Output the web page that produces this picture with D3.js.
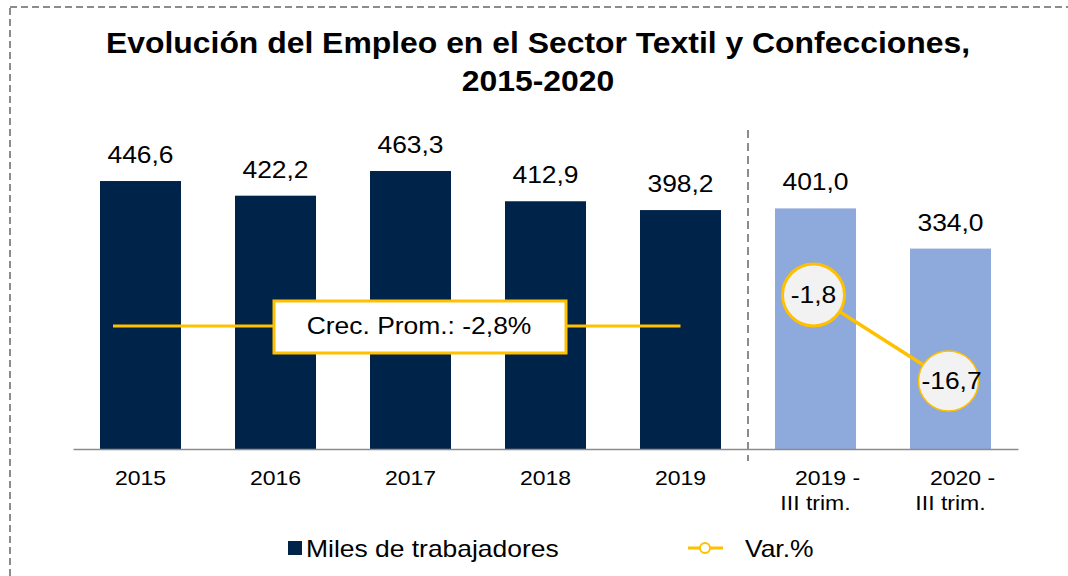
<!DOCTYPE html>
<html>
<head>
<meta charset="utf-8">
<script src="https://cdn.jsdelivr.net/npm/d3@7"></script>
<style>
  body { margin: 0; background: #fff; }
  svg text { font-family: "Liberation Sans", Arial, sans-serif; fill: #000; }
</style>
</head>
<body>
<svg id="chart" width="1068" height="576"></svg>
<script>
// data
const categories = ["2015", "2016", "2017", "2018", "2019", "2019 - III trim.", "2020 - III trim."];
const labelLines = [["2015"], ["2016"], ["2017"], ["2018"], ["2019"], ["2019 -", "III trim."], ["2020 -", "III trim."]];
const empleo = [446.6, 422.2, 463.3, 412.9, 398.2, 401.0, 334.0];
const quarterly = [false, false, false, false, false, true, true];
const variacion = [null, null, null, null, null, -1.8, -16.7];
const crecProm = -2.8;

const navy = "#00234A", lightBlue = "#8EA9DB", yellow = "#FFC000";
const sx = 1.15; // text in the original is a bit wider than tall

const locale = d3.formatLocale({ decimal: ",", thousands: ".", grouping: [3], currency: ["", ""], minus: "-" });
const fmt = locale.format(".1f");

const svg = d3.select("#chart");

// dashed frame
svg.append("rect")
    .attr("x", 10).attr("y", 7)
    .attr("width", 1100).attr("height", 620)
    .attr("fill", "none")
    .attr("stroke", "#8c8c8c")
    .attr("stroke-width", 2)
    .attr("stroke-dasharray", "7,4");

function addText(g, x, y, str, size, anchor, weight, scaleX) {
    return g.append("text")
        .attr("transform", "translate(" + x + "," + y + ") scale(" + (scaleX || sx) + ",1)")
        .attr("text-anchor", anchor || "middle")
        .style("font-size", size + "px")
        .style("font-weight", weight || "normal")
        .text(str);
}

// title
addText(svg, 538, 53, "Evolución del Empleo en el Sector Textil y Confecciones,", 29, "middle", "bold", 1.1);
addText(svg, 538, 91, "2015-2020", 29, "middle", "bold", 1.1);

const x = d3.scaleBand()
    .domain(categories)
    .range([73, 1018])
    .paddingInner(0.4)
    .paddingOuter(0.2);

const y = d3.scaleLinear().domain([0, 500]).range([449, 149]);
const y2 = d3.scaleLinear().domain([-20, 0]).range([400, 284.6]);

// bars
svg.append("g").selectAll("rect")
    .data(categories)
    .enter()
    .append("rect")
    .attr("x", d => x(d))
    .attr("y", (d, i) => y(empleo[i]))
    .attr("width", x.bandwidth())
    .attr("height", (d, i) => y(0) - y(empleo[i]))
    .attr("fill", (d, i) => quarterly[i] ? lightBlue : navy);

// value labels
const labels = svg.append("g");
categories.forEach(function (c, i) {
    addText(labels, x(c) + x.bandwidth() / 2, y(empleo[i]) - 18, fmt(empleo[i]), 23);
});

// x axis
const xAxis = svg.append("g")
    .attr("transform", "translate(0," + y(0) + ")")
    .call(d3.axisBottom(x).tickSize(0).tickFormat(""));
xAxis.select(".domain").attr("stroke", "#8c8c8c").attr("stroke-width", 1.5);

const xl = svg.append("g");
categories.forEach(function (c, i) {
    const cx = x(c) + x.bandwidth() / 2;
    const lines = labelLines[i];
    if (lines.length === 1) {
        addText(xl, cx, 485, lines[0], 20);
    } else {
        addText(xl, cx + 12, 485, lines[0], 20);
        addText(xl, cx, 510, lines[1], 20);
    }
});

// separator between annual and quarterly data
const sepX = x(categories[5]) - x.step() * x.paddingInner() / 2;
svg.append("line")
    .attr("x1", sepX).attr("x2", sepX)
    .attr("y1", 130).attr("y2", 461)
    .attr("stroke", "#8c8c8c")
    .attr("stroke-width", 2)
    .attr("stroke-dasharray", "8,5");

// average growth annotation
const avgY = y(205);
svg.append("line")
    .attr("x1", x(categories[0]) + 13)
    .attr("x2", x(categories[4]) + x.bandwidth() / 2)
    .attr("y1", avgY).attr("y2", avgY)
    .attr("stroke", yellow)
    .attr("stroke-width", 3);
svg.append("rect")
    .attr("x", 274).attr("y", avgY - 25)
    .attr("width", 292).attr("height", 52)
    .attr("fill", "#fff")
    .attr("stroke", yellow)
    .attr("stroke-width", 3);
addText(svg, 419, avgY + 8, "Crec. Prom.: " + fmt(crecProm) + "%", 23);

// variation line
const varPts = categories
    .map((c, i) => ({ c: c, v: variacion[i] }))
    .filter(d => d.v !== null);
svg.append("path")
    .datum(varPts)
    .attr("fill", "none")
    .attr("stroke", yellow)
    .attr("stroke-width", 3.5)
    .attr("d", d3.line()
        .x(d => x(d.c) + x.bandwidth() / 2 - 2)
        .y(d => y2(d.v)));

const pts = svg.append("g").selectAll("g")
    .data(varPts)
    .enter()
    .append("g");
pts.append("circle")
    .attr("cx", d => x(d.c) + x.bandwidth() / 2 - 2)
    .attr("cy", d => y2(d.v))
    .attr("r", (d, i) => i === 0 ? 31 : 30)
    .attr("fill", "#F2F2F2")
    .attr("stroke", yellow)
    .attr("stroke-width", (d, i) => i === 0 ? 3 : 1.5);
pts.each(function (d, i) {
    const cx = x(d.c) + x.bandwidth() / 2 - 2 + (i === 0 ? 0 : 3);
    addText(d3.select(this), cx, y2(d.v) + 8, fmt(d.v), 23);
});

// legend
const lg = svg.append("g");
lg.append("rect")
    .attr("x", 288).attr("y", 541)
    .attr("width", 14).attr("height", 14)
    .attr("fill", navy);
addText(lg, 306, 557, "Miles de trabajadores", 23, "start");
lg.append("line")
    .attr("x1", 688).attr("x2", 723)
    .attr("y1", 548).attr("y2", 548)
    .attr("stroke", yellow)
    .attr("stroke-width", 3);
lg.append("circle")
    .attr("cx", 705).attr("cy", 548).attr("r", 5)
    .attr("fill", "#fff")
    .attr("stroke", yellow)
    .attr("stroke-width", 2);
addText(lg, 745, 557, "Var.%", 23, "start");
</script>
</body>
</html>
